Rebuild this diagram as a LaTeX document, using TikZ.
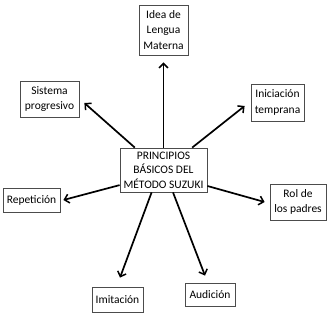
\documentclass[tikz,border=0pt]{standalone}
\usepackage{fontspec}
\setmainfont{Carlito}
\usetikzlibrary{arrows.meta}
\begin{document}
\begin{tikzpicture}[x=1pt, y=-1pt,
  every node/.style={font=\fontsize{11.5}{15.5}\selectfont},
  pbox/.style={draw=black!70, line width=0.8pt, fill=white, align=center, inner sep=0pt},
  arr/.style={line width=1.7pt, -{Straight Barb[length=4.5pt, width=9pt, line width=1.5pt]}}]
  \useasboundingbox (0,0) rectangle (331,313);
  % central box
  \node[pbox, minimum width=87pt, minimum height=44pt, font=\fontsize{11.5}{14.5}\selectfont] (c) at (163.5,170)
    {PRINCIPIOS\\BÁSICOS DEL\\MÉTODO SUZUKI};
  % surrounding boxes
  \node[pbox, minimum width=49pt, minimum height=50pt] (lengua) at (163.5,30) {Idea de\\Lengua\\Materna};
  \node[pbox, minimum width=59pt, minimum height=36pt] (sistema) at (49.5,99) {Sistema\\progresivo};
  \node[pbox, minimum width=53pt, minimum height=37pt] (inicia) at (277.5,102.5) {Iniciación\\temprana};
  \node[pbox, minimum width=57pt, minimum height=24pt] (repet) at (31.5,200) {Repetición};
  \node[pbox, minimum width=56pt, minimum height=36pt] (padres) at (298,202) {Rol de\\los padres};
  \node[pbox, minimum width=51pt, minimum height=25pt] (imit) at (117.5,299.5) {Imitación};
  \node[pbox, minimum width=50pt, minimum height=23pt] (audic) at (210,294.5) {Audición};
  % arrows
  \draw[arr] (c.north) -- ([yshift=-7pt]lengua.south);
  \draw[arr] (c.142) -- ([xshift=5pt, yshift=-4pt]sistema.east);
  \draw[arr] (c.38) -- ([xshift=-6pt, yshift=-3.5pt]inicia.west);
  \draw[arr] (c.199) -- ([xshift=3pt]repet.east);
  \draw[arr] (c.-20) -- ([xshift=-5pt]padres.west);
  \draw[arr] (c.242) -- ([xshift=2.5pt, yshift=9pt]imit.north);
  \draw[arr] (c.-67) -- ([xshift=-5pt, yshift=7pt]audic.north);
\end{tikzpicture}
\end{document}
